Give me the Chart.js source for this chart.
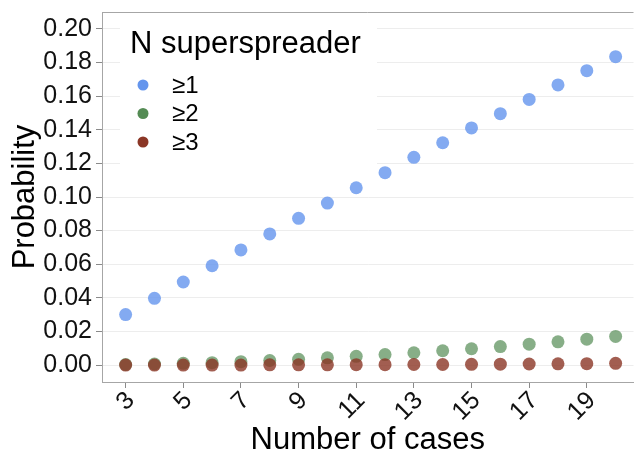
<!DOCTYPE html>
<html>
<head>
<meta charset="utf-8">
<script src="https://cdn.jsdelivr.net/npm/chart.js@4/dist/chart.umd.min.js"></script>
<style>
  html, body { margin: 0; padding: 0; background: #ffffff; }
  #wrap { width: 640px; height: 459px; }
</style>
</head>
<body>
<div id="wrap"><canvas id="c" width="640" height="459"></canvas></div>
<script>
// ---- data ----
const cases = [3, 4, 5, 6, 7, 8, 9, 10, 11, 12, 13, 14, 15, 16, 17, 18, 19, 20];
const probAtLeast1 = [0.0300, 0.0397, 0.0494, 0.0591, 0.0685, 0.0780, 0.0873, 0.0964, 0.1055, 0.1145,
                      0.1236, 0.1323, 0.1411, 0.1496, 0.1581, 0.1667, 0.1752, 0.1835];
const probAtLeast2 = [0.0003, 0.0006, 0.0010, 0.0014, 0.0020, 0.0027, 0.0034, 0.0043, 0.0052, 0.0062,
                      0.0073, 0.0085, 0.0097, 0.0110, 0.0124, 0.0138, 0.0154, 0.0170];
const probAtLeast3 = [0.0000, 0.0000, 0.0000, 0.0000, 0.0000, 0.0001, 0.0001, 0.0001, 0.0002, 0.0002,
                      0.0003, 0.0003, 0.0004, 0.0005, 0.0006, 0.0007, 0.0008, 0.0010];
const seriesLabels = ['≥1', '≥2', '≥3'];
const xTickValues = [3, 5, 7, 9, 11, 13, 15, 17, 19];
const yTickValues = [0.00, 0.02, 0.04, 0.06, 0.08, 0.10, 0.12, 0.14, 0.16, 0.18, 0.20];
const legendTitle = 'N superspreader';
const xTitle = 'Number of cases';
const yTitle = 'Probability';

// ---- styling ----
const FONT = '"Liberation Sans", Arial, Helvetica, sans-serif';
const solid = ['rgb(100,149,237)', 'rgb(84,139,84)', 'rgb(139,54,38)'];
const faded = ['rgba(100,149,237,0.8)', 'rgba(84,139,84,0.7)', 'rgba(139,54,38,0.8)'];

function pts(ys) { return cases.map((x, i) => ({ x: x, y: ys[i] })); }

const allSeries = [probAtLeast1, probAtLeast2, probAtLeast3];
const datasets = allSeries.map((ys, k) => ({
  label: seriesLabels[k],
  data: pts(ys),
  backgroundColor: faded[k],
  borderColor: 'rgba(0,0,0,0)',
  borderWidth: 0,
  pointRadius: 6.5,
  pointHoverRadius: 6.5,
  showLine: false,
  order: 2 - k,
  legendColor: solid[k]
}));

const frameAndLegend = {
  id: 'frameAndLegend',
  afterDraw(chart) {
    const ctx = chart.ctx;
    const a = chart.chartArea;
    ctx.save();
    // top border of panel
    ctx.strokeStyle = '#a6a6a6';
    ctx.lineWidth = 1;
    ctx.beginPath();
    ctx.moveTo(a.left, a.top + 0.5);
    ctx.lineTo(a.right, a.top + 0.5);
    ctx.stroke();
    // legend background
    ctx.fillStyle = '#ffffff';
    ctx.fillRect(120, 17, 257, 160);
    // legend title
    ctx.fillStyle = '#000000';
    ctx.textBaseline = 'alphabetic';
    ctx.textAlign = 'left';
    ctx.font = '31px ' + FONT;
    ctx.fillText(legendTitle, 130, 53);
    // items
    ctx.font = '24px ' + FONT;
    ctx.textBaseline = 'middle';
    const ys = [85, 113.5, 142];
    chart.data.datasets.forEach((ds, i) => {
      ctx.fillStyle = ds.legendColor;
      ctx.beginPath();
      ctx.arc(143, ys[i], 5.5, 0, Math.PI * 2);
      ctx.fill();
      ctx.fillStyle = '#000000';
      ctx.fillText(ds.label, 172, ys[i] + 1);
    });
    ctx.restore();
  }
};

new Chart(document.getElementById('c'), {
  type: 'scatter',
  data: { datasets: datasets },
  options: {
    responsive: false,
    animation: false,
    devicePixelRatio: 1,
    layout: { padding: { top: 12, right: 0, left: 0, bottom: 0 } },
    plugins: { legend: { display: false }, tooltip: { enabled: false } },
    scales: {
      x: {
        type: 'linear',
        min: 2.18,
        max: 20.62,
        afterBuildTicks(scale) { scale.ticks = xTickValues.map(v => ({ value: v })); },
        afterFit(scale) { scale.height = 77; scale.paddingLeft = 0; scale.paddingRight = 0; },
        grid: { display: true, drawOnChartArea: false, drawTicks: true, tickLength: 6, tickColor: '#8a8a8a' },
        border: { display: true, color: '#a6a6a6', width: 1 },
        ticks: {
          minRotation: 45,
          maxRotation: 45,
          padding: -2,
          labelOffset: 5,
          color: '#111111',
          font: { family: FONT, size: 25 },
          callback: v => String(v)
        },
        title: {
          display: true,
          text: xTitle,
          color: '#000000',
          font: { family: FONT, size: 31, lineHeight: 1.2 },
          padding: { top: 0, bottom: 0 }
        }
      },
      y: {
        type: 'linear',
        min: -0.0101,
        max: 0.2101,
        afterBuildTicks(scale) { scale.ticks = yTickValues.map(v => ({ value: v })); },
        afterFit(scale) { scale.width = 102; scale.paddingTop = 0; scale.paddingBottom = 0; },
        grid: { display: true, color: '#ededed', lineWidth: 1, drawTicks: true, tickLength: 6, tickColor: '#8a8a8a' },
        border: { display: true, color: '#a6a6a6', width: 1 },
        ticks: {
          padding: 4,
          color: '#111111',
          font: { family: FONT, size: 25 },
          callback: v => Number(v).toFixed(2)
        },
        title: {
          display: true,
          text: yTitle,
          color: '#000000',
          font: { family: FONT, size: 31, lineHeight: 1.2 },
          padding: { top: 7, bottom: 0 }
        }
      }
    }
  },
  plugins: [frameAndLegend]
});
</script>
</body>
</html>
